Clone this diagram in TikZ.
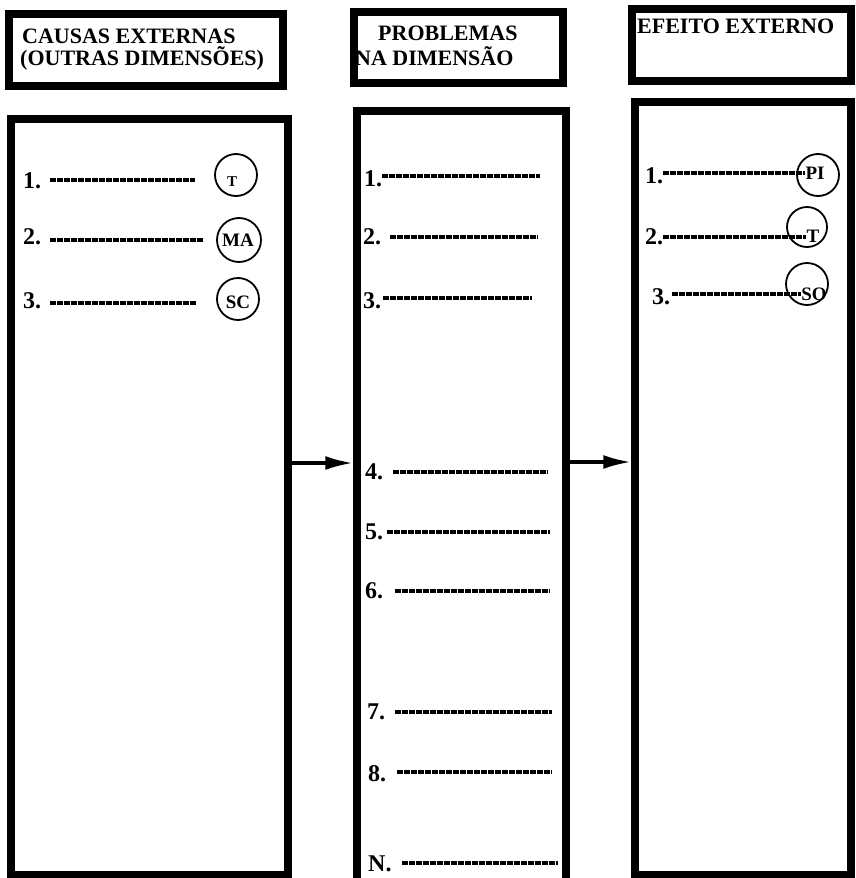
\documentclass[tikz,border=0pt]{standalone}
\usepackage{fontspec}
\setmainfont{Liberation Serif}
\usetikzlibrary{arrows.meta}
\begin{document}
\begin{tikzpicture}[x=1pt,y=-1pt,
  frame/.style={draw, line width=7.5pt, inner sep=0pt},
  htext/.style={anchor=base west, inner sep=0pt, font=\fontsize{22}{24}\selectfont\bfseries},
  num/.style={anchor=base west, inner sep=0pt, font=\fontsize{24}{26}\selectfont\bfseries},
  wline/.style={line width=3.2pt, dash pattern=on 6pt off 1pt},
  circ/.style={circle, draw, line width=1.8pt, inner sep=0pt, minimum size=42pt},
  clab/.style={inner sep=0pt, font=\fontsize{19}{21}\selectfont\bfseries},
  arr/.style={line width=3.5pt, -{Latex[length=28pt,width=14pt]}}]
\useasboundingbox (0,0) rectangle (855,878);
% frames
\node[frame, minimum width=274pt, minimum height=72pt] (h1) at (146,50) {};
\node[frame, minimum width=277pt, minimum height=756pt] (m1) at (149.5,497) {};
\node[frame, minimum width=209pt, minimum height=71pt] (h2) at (458.5,47.5) {};
\node[frame, minimum width=209pt, minimum height=789pt] (m2) at (461.5,505.5) {};
\node[frame, minimum width=219pt, minimum height=72pt] (h3) at (741.5,45) {};
\node[frame, minimum width=216pt, minimum height=773pt] (m3) at (743,488.5) {};
% headers
\node[htext] (t1a) at (22,43) {CAUSAS EXTERNAS};
\node[htext] (t1b) at (20,65) {(OUTRAS DIMENSÕES)};
\node[htext] (t2a) at (378,40) {PROBLEMAS};
\node[htext] (t2b) at (355,65) {NA DIMENSÃO};
\node[htext] (t3a) at (637,33) {EFEITO EXTERNO};
% arrows
\coordinate (ay1) at (0,463);
\coordinate (ay2) at (0,462);
\draw[arr] (m1.east |- ay1) -- (m2.west |- ay1);
\draw[arr] (m2.east |- ay2) -- (m3.west |- ay2);
% box 1
\node[num] (a1) at (23,188) {1.};
\node[num] (a2) at (23,244) {2.};
\node[num] (a3) at (23,308) {3.};
\draw[wline] (50,180) coordinate (a1s) -- (195,180) coordinate (a1e);
\draw[wline] (50,240) coordinate (a2s) -- (203,240) coordinate (a2e);
\draw[wline] (50,303) coordinate (a3s) -- (197,303) coordinate (a3e);
\node[circ] (ca1) at (236,175) {};
\node[circ, minimum size=44pt] (ca2) at (239,240) {};
\node[circ] (ca3) at (238,299) {};
\node[clab, font=\fontsize{15}{17}\selectfont\bfseries] (la1) at (232,182) {T};
\node[clab] (la2) at (238,240) {MA};
\node[clab] (la3) at (238,302) {SC};
% box 2
\node[num] (b1) at (364,186) {1.};
\node[num] (b2) at (363,244) {2.};
\node[num] (b3) at (363,308) {3.};
\node[num] (b4) at (365,479) {4.};
\node[num] (b5) at (365,539) {5.};
\node[num] (b6) at (365,598) {6.};
\node[num] (b7) at (367,719) {7.};
\node[num] (b8) at (368,781) {8.};
\node[num] (bN) at (368,871) {N.};
\draw[wline] (382,176) coordinate (b1s) -- (540,176) coordinate (b1e);
\draw[wline] (390,237) coordinate (b2s) -- (538,237) coordinate (b2e);
\draw[wline] (383,298) coordinate (b3s) -- (532,298) coordinate (b3e);
\draw[wline] (393,472) coordinate (b4s) -- (548,472) coordinate (b4e);
\draw[wline] (387,532) coordinate (b5s) -- (550,532) coordinate (b5e);
\draw[wline] (395,591) coordinate (b6s) -- (550,591) coordinate (b6e);
\draw[wline] (395,712) coordinate (b7s) -- (552,712) coordinate (b7e);
\draw[wline] (397,772) coordinate (b8s) -- (552,772) coordinate (b8e);
\draw[wline] (402,863) coordinate (bNs) -- (558,863) coordinate (bNe);
% box 3
\node[num] (c1) at (645,183) {1.};
\node[num] (c2) at (645,244) {2.};
\node[num] (c3) at (652,304) {3.};
\node[circ] (cc1) at (818,175) {};
\node[circ, minimum size=40pt] (cc2) at (807,227) {};
\node[circ] (cc3) at (807,284) {};
\node[clab] (lc1) at (815,173) {PI};
\node[clab] (lc2) at (813,236) {T};
\node[clab] (lc3) at (814,294) {SO};
\draw[wline] (663,173) coordinate (c1s) -- (lc1.west |- c1s);
\draw[wline] (663,237) coordinate (c2s) -- (lc2.west |- c2s);
\draw[wline] (672,294) coordinate (c3s) -- (lc3.west |- c3s);
\end{tikzpicture}
\end{document}
